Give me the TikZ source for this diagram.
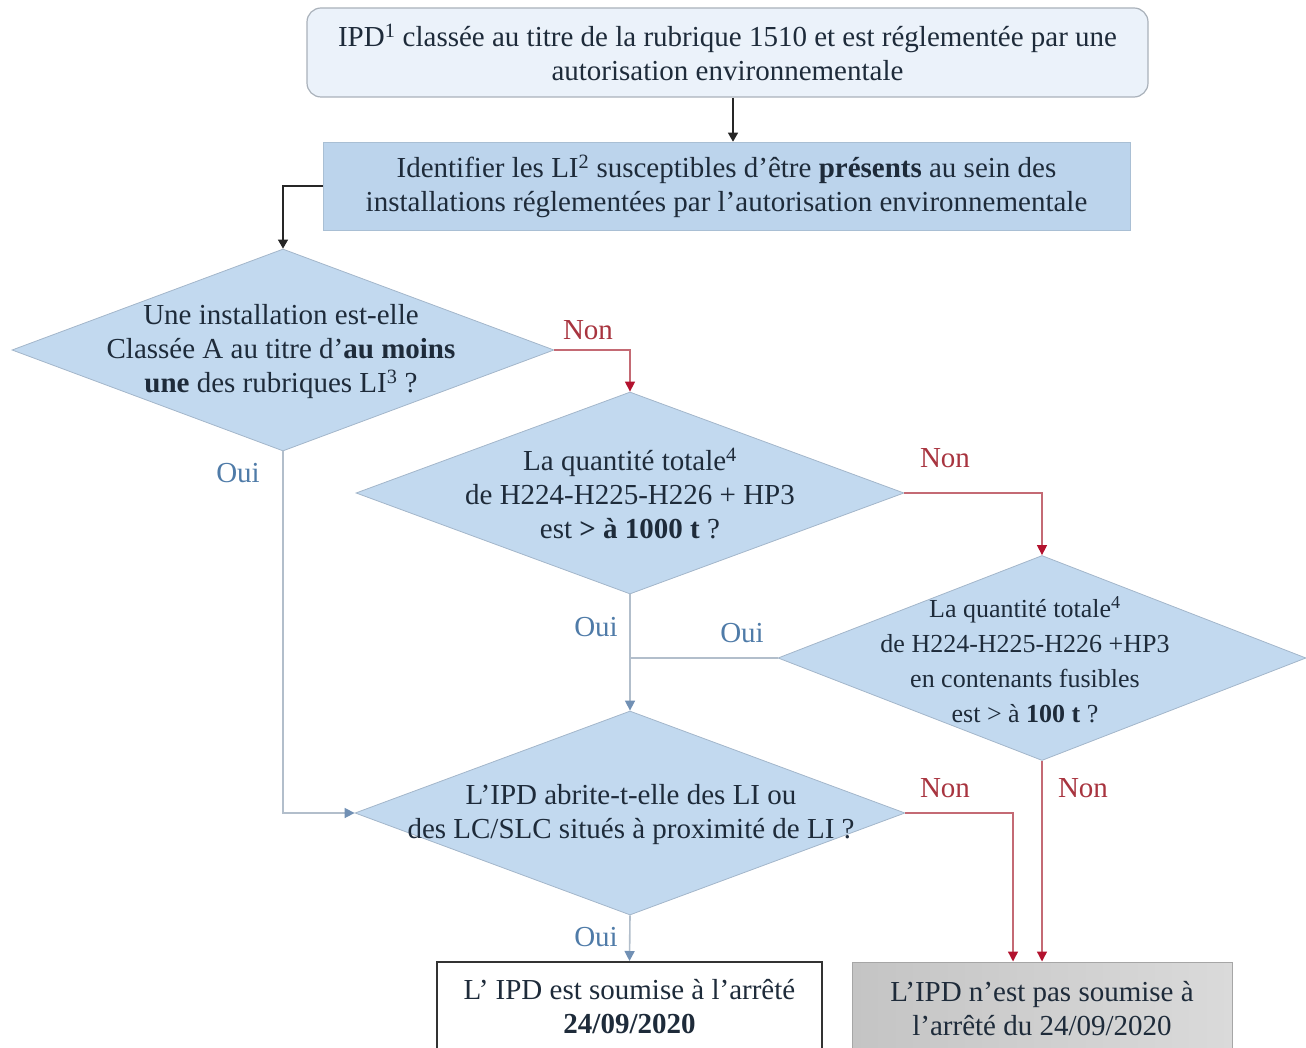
\documentclass[tikz,border=0pt]{standalone}
\usepackage{fontspec}
\IfFontExistsTF{LiberationSerif-Regular.ttf}{%
  \setmainfont{LiberationSerif}[Extension=.ttf, UprightFont=*-Regular, BoldFont=*-Bold, ItalicFont=*-Italic, BoldItalicFont=*-BoldItalic]}{%
  \setmainfont{Liberation Serif}}
\usetikzlibrary{shapes.geometric,arrows.meta,calc}
\definecolor{txt}{HTML}{1E2B3A}
\definecolor{topfill}{HTML}{EBF2FA}
\definecolor{topline}{HTML}{A9B1BA}
\definecolor{bfill}{HTML}{BCD4EC}
\definecolor{dfill}{HTML}{C2D9EF}
\definecolor{dline}{HTML}{A3B6CA}
\definecolor{redline}{HTML}{C46A74}
\definecolor{redtip}{HTML}{B3122E}
\definecolor{redtxt}{HTML}{A8343F}
\definecolor{blueline}{HTML}{B2BECB}
\definecolor{bluetip}{HTML}{7190B4}
\definecolor{bluetxt}{HTML}{4F7BA8}
\definecolor{grayA}{HTML}{C4C4C4}
\definecolor{grayB}{HTML}{DADADA}
\tikzset{
  base/.style={font=\fontsize{29}{34}\selectfont, text=txt, align=center},
  small/.style={font=\fontsize{26}{35}\selectfont, text=txt, align=center},
  topbox/.style={base, draw=topline, line width=1.2pt, fill=topfill, rounded corners=14pt,
    minimum width=841pt, minimum height=89pt, inner sep=0pt},
  idbox/.style={base, fill=bfill, draw=bfill!90!black, line width=0.6pt,
    minimum width=807pt, minimum height=88pt, inner sep=0pt},
  dshape/.style={diamond, fill=dfill, draw=dline, line width=0.8pt, inner sep=0pt},
  yesbox/.style={fill=white, draw=black!80, line width=2pt,
    minimum width=385pt, minimum height=100pt, inner sep=0pt},
  nobox/.style={left color=grayA, right color=grayB, draw=gray!70, line width=1pt,
    minimum width=380pt, minimum height=100pt, inner sep=0pt},
  blk/.style={draw=black!85, line width=1.4pt, -{Triangle[width=10pt,length=9pt]}},
  rd/.style={draw=redline, line width=1.4pt, -{Triangle[width=10pt,length=10pt,color=redtip]}},
  bl/.style={draw=blueline, line width=1.6pt, -{Triangle[width=10pt,length=10pt,color=bluetip]}},
  bll/.style={draw=blueline, line width=1.6pt},
  nonlab/.style={font=\fontsize{29}{30}\selectfont, text=redtxt},
  ouilab/.style={font=\fontsize{29}{30}\selectfont, text=bluetxt},
}
\begin{document}
\begin{tikzpicture}[x=1pt,y=-1pt]
\useasboundingbox (0,0) rectangle (1306,1048);
\clip (0,0) rectangle (1306,1048);

% boxes
\node[topbox] (top) at (727.5,52.5) {IPD\textsuperscript{1} classée au titre de la rubrique 1510 et est réglementée par une\\autorisation environnementale};
\node[idbox] (id) at (726.5,186) {Identifier les LI\textsuperscript{2} susceptibles d’être \textbf{présents} au sein des\\installations réglementées par l’autorisation environnementale};

% diamonds
\node[dshape, minimum width=542pt, minimum height=202pt] (d1) at (283,350) {};
\node[base] (d1t) at (281,352) {Une installation est-elle\\Classée A au titre d’\textbf{au moins}\\\textbf{une} des rubriques LI\textsuperscript{3} ?};
\node[dshape, minimum width=548pt, minimum height=202pt] (d2) at (630,493) {};
\node[base] (d2t) at (630,494) {La quantité totale\textsuperscript{4}\\de H224-H225-H226 + HP3\\est \textbf{> à 1000 t} ?};
\node[dshape, minimum width=528pt, minimum height=205pt] (d3) at (1042,658) {};
\node[small] (d3t) at (1025,660) {La quantité totale\textsuperscript{4}\\de H224-H225-H226 +HP3\\en contenants fusibles\\est > à \textbf{100 t} ?};
\node[dshape, minimum width=550pt, minimum height=204pt] (d4) at (630,813) {};
\node[base] (d4t) at (631,815) {L’IPD abrite-t-elle des LI ou\\des LC/SLC situés à proximité de LI ?};

% final boxes
\node[yesbox] (f1) at (629.5,1012) {};
\node[base] (f1t) at (629.5,1007) {L’ IPD est soumise à l’arrêté\\\textbf{24/09/2020}};
\node[nobox] (f2) at (1042,1012) {};
\node[base] (f2t) at (1042,1009) {L’IPD n’est pas soumise à\\l’arrêté du 24/09/2020};

% connectors
\draw[blk] ([xshift=5.5pt]top.south) -- ([xshift=5.5pt]top.south |- id.north);
\draw[blk] (id.west) -| (d1.north);
\draw[rd] (d1.east) -| (d2.north);
\draw[rd] (d2.east) -| (d3.north);
\draw[bl] (d1.south) |- (d4.west);
\draw[bl] (d2.south) -- (d4.north);
\coordinate (j) at (d2.south |- d3.west);
\draw[bll] (d3.west) -- (j);
\draw[bl] (d4.south) -- (f1.north);
\coordinate (k) at ([xshift=-29pt]f2.north);
\draw[rd] (d4.east) -| (k);
\draw[rd] (d3.south) -- (f2.north);

% labels
\node[nonlab] (n1) at (588,330) {Non};
\node[nonlab] (n2) at (945,458) {Non};
\node[nonlab] (n3) at (945,788) {Non};
\node[nonlab] (n4) at (1083,788) {Non};
\node[ouilab] (o1) at (238,473) {Oui};
\node[ouilab] (o2) at (596,627) {Oui};
\node[ouilab] (o3) at (742,633) {Oui};
\node[ouilab] (o4) at (596,937) {Oui};
\end{tikzpicture}
\end{document}
